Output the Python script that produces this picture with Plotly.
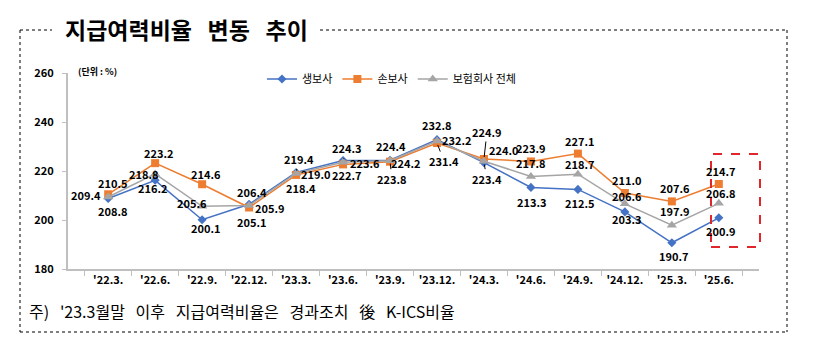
import plotly.graph_objects as go

categories = ["'22.3.", "'22.6.", "'22.9.", "'22.12.", "'23.3.", "'23.6.", "'23.9.",
              "'23.12.", "'24.3.", "'24.6.", "'24.9.", "'24.12.", "'25.3.", "'25.6."]
life = [208.8, 216.2, 200.1, 206.4, 219.4, 224.3, 224.4, 232.8, 223.4, 213.3, 212.5, 203.3, 190.7, 200.9]
nonlife = [210.5, 223.2, 214.6, 205.1, 218.4, 222.7, 223.8, 231.4, 224.9, 223.9, 227.1, 211.0, 207.6, 214.7]
total = [209.4, 218.8, 205.6, 205.9, 219.0, 223.6, 224.2, 232.2, 224.0, 217.8, 218.7, 206.6, 197.9, 206.8]
series_names = ["생보사", "손보사", "보험회사 전체"]
y_ticks = [180, 200, 220, 240, 260]

# label placement offsets in screen pixels (dx right, dy down) and leader-line flags
life_off = [(5, 13), (-2, 8), (4, 8), (3, -12), (3, -13), (4, -12), (1, -14), (0, -15),
            (3, 16), (1, 15), (2, 14), (2, 7), (2, 13), (2, 13)]
life_lead = [0, 0, 0, 0, 1, 1, 0, 0, 1, 0, 0, 0, 0, 0]
nonlife_off = [(5, -11), (4, -10), (4, -10), (3, 14), (5, 13), (4, 11), (2, 17), (7, 18),
               (3, -27), (0, -13), (2, -13), (2, -13), (3, -13), (2, -13)]
nonlife_lead = [0, 0, 0, 0, 0, 0, 1, 1, 1, 0, 0, 0, 0, 0]
total_off = [(-22, -2), (-11, 0), (-10, -3), (21, 2), (20, 1), (22, 1), (16, 2), (20, -1),
             (20, -11), (0, -13), (2, -10), (2, -8), (3, -14), (2, -10)]
total_lead = [0] * 14

BLUE = "#4472C4"
ORANGE = "#ED7D31"
GRAY = "#A5A5A5"
FONT = "Noto Sans CJK KR"
SP3 = "\u00a0\u00a0\u00a0"

fig = go.Figure()
fig.add_trace(go.Scatter(x=categories, y=life, name=series_names[0], mode="lines+markers",
                         line=dict(color=BLUE, width=1.5),
                         marker=dict(symbol="diamond", size=7, color=BLUE)))
fig.add_trace(go.Scatter(x=categories, y=nonlife, name=series_names[1], mode="lines+markers",
                         line=dict(color=ORANGE, width=1.5),
                         marker=dict(symbol="square", size=8, color=ORANGE)))
fig.add_trace(go.Scatter(x=categories, y=total, name=series_names[2], mode="lines+markers",
                         line=dict(color=GRAY, width=1.5),
                         marker=dict(symbol="triangle-up", size=9, color=GRAY)))

annotations = []
for vals, offs, leads in [(life, life_off, life_lead), (nonlife, nonlife_off, nonlife_lead),
                          (total, total_off, total_lead)]:
    for c, v, (dx, dy), ld in zip(categories, vals, offs, leads):
        if ld:
            annotations.append(dict(x=c, y=v, xref="x", yref="y", text=f"{v:.1f}",
                                    showarrow=True, arrowhead=0, arrowwidth=1, arrowcolor="#000",
                                    ax=dx, ay=dy, standoff=2,
                                    font=dict(family=FONT, size=11, color="#000", weight="bold")))
        else:
            annotations.append(dict(x=c, y=v, xref="x", yref="y", text=f"{v:.1f}",
                                    showarrow=False, xshift=dx, yshift=-dy,
                                    font=dict(family=FONT, size=11, color="#000", weight="bold")))

# plot area in pixels: x 68..759, y 73..269
L, R, T, B = 68, 759, 73, 269
W, H = R - L, B - T
def px(x):
    return (x - L) / W
def py(y):
    return (B - y) / H

annotations.append(dict(x=px(63), y=py(29), xref="paper", yref="paper",
                        text="지급여력비율" + SP3 + "변동" + SP3 + "추이",
                        showarrow=False, xanchor="left", yanchor="middle",
                        font=dict(family=FONT, size=23, color="#000", weight="bold")))
annotations.append(dict(x=px(76), y=py(71), xref="paper", yref="paper", text="(단위 : %)",
                        showarrow=False, xanchor="left", yanchor="middle",
                        font=dict(family=FONT, size=9, color="#000", weight="bold")))
annotations.append(dict(x=px(27), y=py(311), xref="paper", yref="paper",
                        text=SP3.join(["주)", "'23.3월말", "이후", "지급여력비율은", "경과조치", "後", "K-ICS비율"]),
                        showarrow=False, xanchor="left", yanchor="middle",
                        font=dict(family=FONT, size=16, color="#000")))

dot = dict(color="#000", width=1, dash="dot")
shapes = [
    dict(type="line", xref="paper", yref="paper", x0=px(20), x1=px(52), y0=py(30), y1=py(30), line=dot),
    dict(type="line", xref="paper", yref="paper", x0=px(320), x1=px(787), y0=py(30), y1=py(30), line=dot),
    dict(type="line", xref="paper", yref="paper", x0=px(20), x1=px(20), y0=py(30), y1=py(332), line=dot),
    dict(type="line", xref="paper", yref="paper", x0=px(787), x1=px(787), y0=py(30), y1=py(332), line=dot),
    dict(type="line", xref="paper", yref="paper", x0=px(20), x1=px(787), y0=py(332), y1=py(332), line=dot),
    dict(type="rect", xref="paper", yref="paper", x0=px(711), x1=px(760), y0=py(247), y1=py(154),
         line=dict(color="#E0262B", width=2, dash="dash")),
]

fig.update_layout(
    width=819, height=338,
    margin=dict(l=L, r=819 - R, t=T, b=338 - B, pad=0),
    paper_bgcolor="white", plot_bgcolor="white",
    font=dict(family=FONT, color="#000"),
    showlegend=True,
    legend=dict(orientation="h", x=px(262), y=py(79), xanchor="left", yanchor="middle",
                font=dict(family=FONT, size=11, color="#000"),
                bgcolor="rgba(0,0,0,0)", itemclick=False),
    annotations=annotations,
    shapes=shapes,
)
fig.update_xaxes(type="category", showline=True, linecolor="#BFBFBF", linewidth=2,
                 ticks="outside", tickson="boundaries", ticklen=5, tickcolor="#BFBFBF",
                 showgrid=False, zeroline=False,
                 tickfont=dict(family=FONT, size=11, color="#000", weight="bold"))
fig.update_yaxes(range=[180, 260], tickvals=y_ticks, showline=True, linecolor="#BFBFBF", linewidth=2,
                 ticks="outside", ticklen=4, tickcolor="#BFBFBF", showgrid=False, zeroline=False,
                 ticklabelstandoff=6,
                 tickfont=dict(family=FONT, size=11, color="#000", weight="bold"))

fig.write_html("out.html")
